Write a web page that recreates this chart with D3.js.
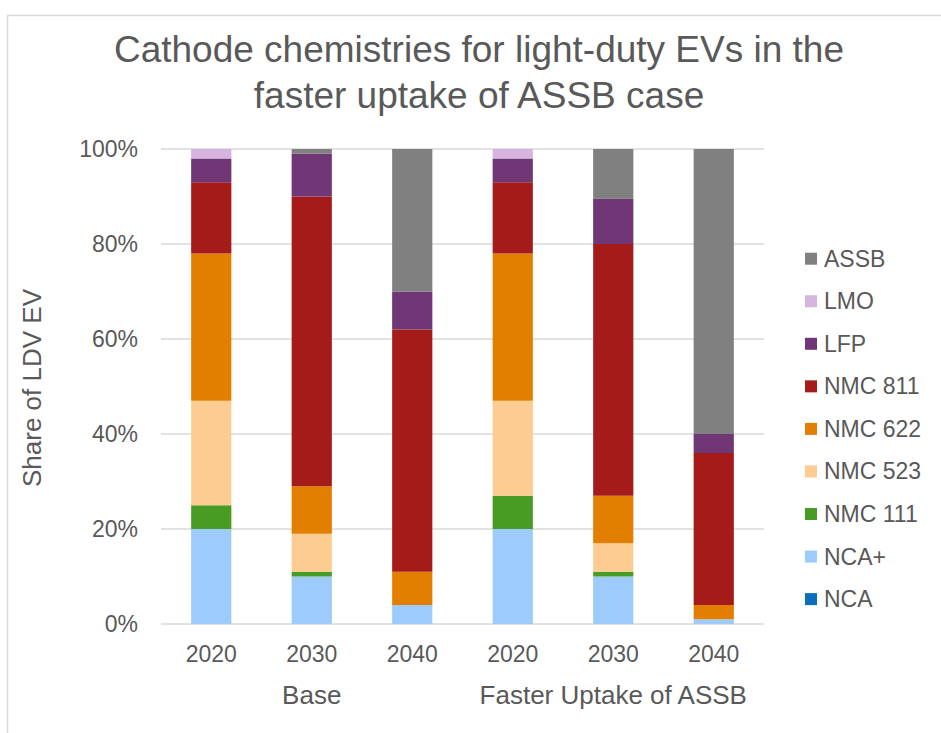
<!DOCTYPE html>
<html>
<head>
<meta charset="utf-8">
<script src="https://cdn.jsdelivr.net/npm/d3@7"></script>
<style>
  body { margin: 0; background: #fff; }
  text { font-family: "Liberation Sans", Arial, sans-serif; fill: #595959; }
</style>
</head>
<body>
<div id="chart"></div>
<script>
const width = 941, height = 733;

// categories (bottom axis, two levels)
const years = ["2020", "2030", "2040", "2020", "2030", "2040"];
const groups = ["Base", "Faster Uptake of ASSB"];
const yTicks = [0, 0.2, 0.4, 0.6, 0.8, 1];

// series, in stack order bottom -> top (shares in %)
const seriesNames = ["NCA", "NCA+", "NMC 111", "NMC 523", "NMC 622", "NMC 811", "LFP", "LMO", "ASSB"];
const nca    = [0, 0, 0, 0, 0, 0];
const ncaPlus = [20, 10, 4, 20, 10, 1];
const nmc111 = [5, 1, 0, 7, 1, 0];
const nmc523 = [22, 8, 0, 20, 6, 0];
const nmc622 = [31, 10, 7, 31, 10, 3];
const nmc811 = [15, 61, 51, 15, 53, 32];
const lfp    = [5, 9, 8, 5, 9.5, 4];
const lmo    = [2, 0, 0, 2, 0, 0];
const assb   = [0, 1, 30, 0, 10.5, 60];
const colors = ["#0a6ebd", "#9ccbfc", "#489c24", "#fdcc91", "#e37f00", "#a51b19", "#703675", "#d5b4dd", "#808080"];

const seriesValues = [nca, ncaPlus, nmc111, nmc523, nmc622, nmc811, lfp, lmo, assb];

// table for d3.stack
const table = years.map((y, i) => {
  const row = { idx: i, year: y };
  seriesNames.forEach((s, j) => row[s] = seriesValues[j][i] / 100);
  return row;
});

const svg = d3.select("#chart").append("svg")
  .attr("width", width)
  .attr("height", height);

// chart area border (only top/left visible)
svg.append("rect")
  .attr("x", 7.5).attr("y", 15.5)
  .attr("width", width + 20).attr("height", height + 20)
  .attr("fill", "none")
  .attr("stroke", "#d9d9d9")
  .attr("stroke-width", 1.5);

const x = d3.scaleBand()
  .domain(d3.range(years.length))
  .range([161, 764])
  .paddingInner(0.6)
  .paddingOuter(0.3);

const y = d3.scaleLinear()
  .domain([0, 1])
  .range([624, 149]);

// gridlines
svg.append("g")
  .selectAll("line")
  .data(yTicks)
  .join("line")
  .attr("x1", 161).attr("x2", 764)
  .attr("y1", d => y(d)).attr("y2", d => y(d))
  .attr("stroke", "#d9d9d9")
  .attr("stroke-width", 1.5);

// y tick labels
svg.append("g")
  .selectAll("text")
  .data(yTicks)
  .join("text")
  .attr("x", 138)
  .attr("y", d => y(d) + 8)
  .attr("text-anchor", "end")
  .style("font-size", "23px")
  .text(d3.format(".0%"));

// bars
const stack = d3.stack().keys(seriesNames);
const stacked = stack(table);

svg.append("g")
  .selectAll("g")
  .data(stacked)
  .join("g")
  .attr("fill", (d, i) => colors[i])
  .selectAll("rect")
  .data(d => d)
  .join("rect")
  .attr("x", d => x(d.data.idx))
  .attr("width", x.bandwidth())
  .attr("y", d => y(d[1]))
  .attr("height", d => y(d[0]) - y(d[1]));

// x tick labels
svg.append("g")
  .selectAll("text")
  .data(years)
  .join("text")
  .attr("x", (d, i) => x(i) + x.bandwidth() / 2)
  .attr("y", 662)
  .attr("text-anchor", "middle")
  .style("font-size", "23px")
  .text(d => d);

// group labels
svg.append("g")
  .selectAll("text")
  .data(groups)
  .join("text")
  .attr("x", (d, i) => (x(i * 3) + x(i * 3 + 2) + x.bandwidth()) / 2)
  .attr("y", 704)
  .attr("text-anchor", "middle")
  .style("font-size", "26px")
  .text(d => d);

// y axis title
svg.append("text")
  .attr("transform", "translate(41,388) rotate(-90)")
  .attr("text-anchor", "middle")
  .style("font-size", "26px")
  .text("Share of LDV EV");

// title
const title = svg.append("text")
  .attr("text-anchor", "middle")
  .style("font-size", "37px");
title.append("tspan").attr("x", 479).attr("y", 62).text("Cathode chemistries for light-duty EVs in the");
title.append("tspan").attr("x", 479).attr("y", 108).text("faster uptake of ASSB case");

// legend, top -> bottom is reverse of stack order
const legendItems = seriesNames.map((s, i) => ({ name: s, color: colors[i] })).reverse();
const legend = svg.append("g")
  .selectAll("g")
  .data(legendItems)
  .join("g")
  .attr("transform", (d, i) => `translate(805,${258.7 + i * 42.55})`);

legend.append("rect")
  .attr("x", 0).attr("y", -6)
  .attr("width", 12).attr("height", 12)
  .attr("fill", d => d.color);

legend.append("text")
  .attr("x", 19)
  .attr("y", 8)
  .style("font-size", "23px")
  .text(d => d.name);
</script>
</body>
</html>
